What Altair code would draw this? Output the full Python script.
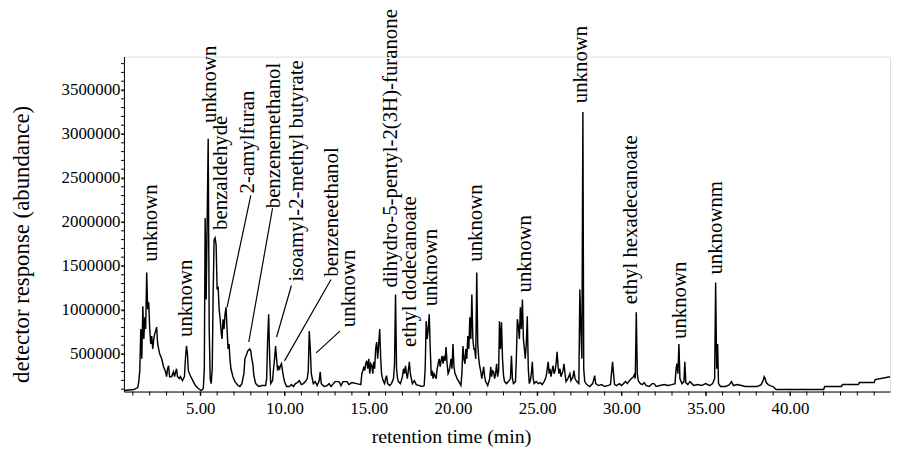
import altair as alt
import pandas as pd

# chromatogram trace: retention time (min) and detector abundance
time_min = [
    0.47, 1.06, 1.29, 1.35, 1.41, 1.47, 1.53, 1.59, 1.65, 1.71, 1.76, 1.82, 1.88, 1.94, 2.00, 2.06, 2.12, 2.18, 2.24, 2.29,
    2.35, 2.41, 2.47, 2.53, 2.59, 2.71, 2.82, 2.94, 3.00, 3.06, 3.12, 3.18, 3.29, 3.41, 3.47, 3.59, 3.65, 3.76, 3.82, 3.94,
    4.06, 4.12, 4.18, 4.24, 4.29, 4.41, 4.59, 4.71, 4.88, 5.06, 5.18,
    5.24, 5.29, 5.35, 5.41, 5.47, 5.53, 5.59, 5.65, 5.71, 5.76, 5.82, 5.88, 5.94, 6.00, 6.06, 6.12, 6.18, 6.24, 6.29, 6.35,
    6.41, 6.47, 6.53, 6.59, 6.65, 6.71, 6.76, 6.82, 6.94, 7.06, 7.24, 7.35, 7.47, 7.59, 7.65, 7.76, 7.82, 7.94, 8.00, 8.06,
    8.12, 8.18, 8.29, 8.47, 8.65, 8.88, 8.94, 9.00, 9.06, 9.12, 9.18, 9.29, 9.35, 9.41, 9.47, 9.53, 9.59, 9.65, 9.71, 9.76,
    9.82, 9.88, 9.94, 10.00, 10.12, 10.29, 10.41, 10.53, 10.65, 10.76, 10.88, 11.00, 11.12, 11.24, 11.35, 11.41, 11.47,
    11.53, 11.59, 11.71, 11.82, 11.94, 12.06, 12.12, 12.18, 12.35, 12.53, 12.65, 12.76, 13.00, 13.24, 13.35, 13.47, 13.71,
    13.82, 14.00, 14.29, 14.53,
    14.59, 14.65, 14.71, 14.76, 14.82, 14.88, 14.94, 15.00, 15.06, 15.12, 15.18, 15.24, 15.29, 15.35, 15.41, 15.47, 15.53,
    15.59, 15.65, 15.71, 15.76, 15.82, 15.88, 15.94, 16.00, 16.06, 16.12, 16.24, 16.35, 16.47, 16.53, 16.59, 16.65, 16.71,
    16.76, 16.88, 17.00, 17.06, 17.12, 17.18, 17.24, 17.29, 17.35, 17.41, 17.47, 17.53, 17.59, 17.71, 17.82, 18.00, 18.18,
    18.29, 18.35, 18.41, 18.47, 18.53, 18.59, 18.65, 18.71, 18.76, 18.82, 18.88, 19.00, 19.06, 19.12, 19.18, 19.24, 19.29,
    19.35, 19.41, 19.47, 19.53, 19.59, 19.65, 19.71, 19.76, 19.82, 19.88, 19.94, 20.00, 20.06, 20.12, 20.18, 20.24, 20.35,
    20.47, 20.53, 20.59, 20.65, 20.71, 20.76, 20.82, 20.88, 20.94, 21.00, 21.06, 21.12, 21.18, 21.24, 21.29, 21.35, 21.41,
    21.47, 21.53, 21.59, 21.65, 21.71, 21.76, 21.82, 21.88, 21.94, 22.06, 22.18, 22.24, 22.29, 22.35, 22.41, 22.47, 22.53,
    22.59, 22.65, 22.71, 22.76, 22.82, 22.88, 22.94, 23.00, 23.06, 23.18, 23.29, 23.41, 23.47, 23.53, 23.59, 23.71, 23.76,
    23.82, 23.88, 23.94, 24.00, 24.06, 24.12, 24.18, 24.24, 24.29, 24.35, 24.41, 24.47, 24.53, 24.59, 24.65, 24.71, 24.76,
    24.82, 24.94, 25.06, 25.18, 25.29, 25.41, 25.53, 25.65, 25.71, 25.76, 25.82, 25.88, 25.94, 26.00, 26.06, 26.12, 26.18,
    26.24, 26.29, 26.35, 26.41, 26.53, 26.59, 26.65, 26.71, 26.82, 26.94, 27.00, 27.12, 27.18, 27.24, 27.35, 27.47, 27.53,
    27.59, 27.65, 27.71, 27.76, 27.82, 27.94, 28.12, 28.29, 28.41, 28.47, 28.65, 28.82, 29.00, 29.18, 29.35, 29.47, 29.53,
    29.59,
    29.71, 29.88, 30.00, 30.12, 30.24, 30.35, 30.47, 30.59, 30.71, 30.76, 30.82, 30.88, 30.94, 31.00, 31.12, 31.24, 31.35,
    31.47, 31.65, 31.82, 31.94, 32.06, 32.29, 32.53, 32.76, 33.00, 33.18, 33.24, 33.29, 33.35, 33.41, 33.47, 33.59, 33.71,
    33.76, 33.82, 33.94, 34.06, 34.18, 34.29, 34.53, 34.76, 35.00, 35.24, 35.41, 35.53, 35.59, 35.65, 35.71, 35.76, 35.88,
    36.18, 36.41, 36.53, 36.65, 36.88, 37.12, 37.35, 37.71, 38.06, 38.29, 38.41, 38.47, 38.53, 38.59, 38.71, 38.82, 39.00,
    39.18, 42.00, 42.06, 43.06, 43.12, 44.06, 44.12, 45.00, 45.06, 45.94,
]

abundance = [
    84000, 96000, 118000, 186000, 310000, 783000, 445000, 1042000, 670000, 918000, 783000, 1425000, 1008000, 1087000,
    783000, 614000, 704000, 557000, 670000, 726000, 760000, 805000, 614000, 557000, 501000, 445000, 355000, 298000,
    242000, 332000, 366000, 242000, 242000, 298000, 242000, 332000, 242000, 220000, 242000, 197000, 242000, 445000,
    591000, 501000, 310000, 253000, 186000, 141000, 107000, 84000, 107000,
    332000, 2044000, 1120000, 2021000, 2945000, 783000, 220000, 163000, 332000, 1120000, 1796000, 1819000, 1740000,
    1233000, 1267000, 1008000, 895000, 749000, 670000, 895000, 783000, 952000, 1030000, 783000, 557000, 614000, 445000,
    332000, 242000, 186000, 141000, 130000, 163000, 276000, 445000, 501000, 535000, 557000, 535000, 445000, 389000,
    253000, 163000, 130000, 141000, 141000, 220000, 670000, 952000, 445000, 163000, 197000, 332000, 445000, 591000,
    445000, 310000, 355000, 332000, 366000, 389000, 310000, 242000, 186000, 130000, 130000, 152000, 130000, 163000,
    175000, 197000, 152000, 163000, 186000, 220000, 310000, 760000, 557000, 276000, 163000, 186000, 141000, 197000,
    298000, 163000, 130000, 141000, 163000, 130000, 186000, 186000, 141000, 186000, 186000, 152000, 175000, 163000,
    152000,
    276000, 310000, 355000, 310000, 389000, 422000, 332000, 445000, 276000, 389000, 366000, 276000, 411000, 332000,
    557000, 636000, 445000, 614000, 783000, 445000, 276000, 220000, 186000, 163000, 220000, 253000, 163000, 141000,
    163000, 220000, 389000, 1177000, 332000, 220000, 186000, 163000, 242000, 332000, 276000, 366000, 276000, 220000,
    310000, 411000, 276000, 220000, 163000, 197000, 152000, 141000, 130000, 141000, 332000, 873000, 670000, 783000,
    952000, 557000, 253000, 310000, 220000, 276000, 220000, 332000, 389000, 445000, 355000, 422000, 479000, 389000,
    479000, 422000, 580000, 389000, 276000, 298000, 355000, 445000, 332000, 614000, 355000, 276000, 253000, 220000,
    186000, 141000, 276000, 591000, 445000, 389000, 557000, 445000, 704000, 557000, 918000, 670000, 1177000, 670000,
    557000, 557000, 445000, 1425000, 614000, 445000, 355000, 298000, 220000, 276000, 355000, 242000, 186000, 141000,
    220000, 355000, 242000, 310000, 298000, 220000, 276000, 389000, 242000, 310000, 873000, 557000, 861000, 445000,
    253000, 186000, 163000, 186000, 220000, 479000, 220000, 163000, 186000, 445000, 895000, 816000, 670000, 1030000,
    783000, 1120000, 670000, 557000, 445000, 614000, 929000, 332000, 163000, 197000, 276000, 411000, 220000, 163000,
    186000, 163000, 175000, 152000, 186000, 242000, 411000, 276000, 332000, 242000, 310000, 366000, 276000, 310000,
    389000, 524000, 355000, 276000, 332000, 242000, 310000, 389000, 276000, 186000, 220000, 276000, 197000, 242000,
    310000, 220000, 186000, 163000, 1233000, 783000, 445000, 3249000, 332000, 186000, 152000, 130000, 163000, 253000,
    163000, 141000, 152000, 130000, 141000, 152000, 411000, 276000, 152000,
    141000, 163000, 141000, 163000, 186000, 163000, 197000, 220000, 242000, 265000, 220000, 974000, 276000, 197000,
    163000, 152000, 175000, 141000, 130000, 163000, 163000, 130000, 141000, 152000, 141000, 152000, 163000, 332000,
    389000, 276000, 614000, 220000, 163000, 186000, 411000, 175000, 152000, 186000, 163000, 141000, 152000, 141000,
    163000, 141000, 163000, 220000, 1312000, 332000, 614000, 163000, 130000, 130000, 152000, 186000, 141000, 152000,
    141000, 130000, 130000, 130000, 152000, 197000, 242000, 220000, 175000, 152000, 141000, 130000, 96000, 96000,
    130000, 130000, 152000, 152000, 175000, 175000, 208000, 242000,
]

# peak annotations (label start position, reading upward)
label_text = [
    "unknown", "unknown", "unknown", "benzaldehyde", "2-amylfuran", "benzenemethanol",
    "isoamyl-2-methyl butyrate", "benzeneethanol", "unknown", "dihydro-5-pentyl-2(3H)-furanone",
    "ethyl dodecanoate", "unknown", "unknown", "unknown", "unknown", "ethyl hexadecanoate",
    "unknown", "unknownm",
]
label_time = [2.06, 4.18, 5.59, 6.24, 7.82, 9.35, 10.76, 12.82, 13.82, 16.35,
              17.47, 18.71, 21.35, 24.29, 27.59, 30.59, 33.47, 35.59]
label_abund = [1548000, 693000, 3125000, 1909000, 2325000, 2156000, 1323000, 1379000, 805000, 1256000,
               580000, 1042000, 1548000, 1199000, 3350000, 1064000, 670000, 1402000]

# leader lines from labels to peaks
leader_t1 = [8.00, 9.29, 10.41, 12.76, 13.29]
leader_v1 = [2303000, 2156000, 1278000, 1346000, 760000]
leader_t2 = [6.59, 7.88, 9.53, 10.00, 11.88]
leader_v2 = [1030000, 636000, 693000, 422000, 512000]

# axis ticks
x_label_values = [5, 10, 15, 20, 25, 30, 35, 40]
y_label_values = [500000, 1000000, 1500000, 2000000, 2500000, 3000000, 3500000]
x_minor_ticks = list(range(1, 46))
y_minor_ticks = list(range(100000, 3900000, 100000))

trace = pd.DataFrame({"t": time_min, "v": abundance})
labels = pd.DataFrame({"t": label_time, "v": label_abund, "label": label_text})
leaders = pd.DataFrame({"t1": leader_t1, "v1": leader_v1, "t2": leader_t2, "v2": leader_v2})
xminor = pd.DataFrame({"t": x_minor_ticks})
yminor = pd.DataFrame({"v": y_minor_ticks})

W, H = 773, 338
x_scale = alt.Scale(domain=[0.47, 45.94], nice=False, zero=False)
y_scale = alt.Scale(domain=[73000, 3880000], nice=False, zero=False)

tick_font = "Liberation Sans Narrow"

x_axis = alt.Axis(
    values=x_label_values, format=".2f",
    grid=False, domainColor="black", domainWidth=1, tickColor="black", tickSize=4, tickWidth=1,
    labelFont=tick_font, labelFontSize=17, labelColor="black", labelPadding=5, labelFlush=False,
    labelOverlap=False,
    title="retention time (min)", titleFont="Liberation Serif", titleFontSize=20, titleFontWeight="normal",
    titleColor="black", titleX=330, titleY=45, titleAlign="center", titleBaseline="middle", titleAnchor="start",
)
y_axis = alt.Axis(
    values=y_label_values, format="d",
    grid=False, domainColor="black", domainWidth=1, tickColor="black", tickSize=3, tickWidth=1,
    labelFont=tick_font, labelFontSize=17, labelColor="black", labelPadding=1, labelOverlap=False,
    title="detector response (abundance)", titleFont="Liberation Serif", titleFontSize=23,
    titleFontWeight="normal", titleColor="black", titleAngle=270, titleX=-103, titleY=189,
    titleAlign="center", titleBaseline="middle", titleAnchor="start",
)

line = alt.Chart(trace).mark_line(color="black", strokeWidth=1.45, clip=True).encode(
    x=alt.X("t:Q", scale=x_scale, axis=x_axis),
    y=alt.Y("v:Q", scale=y_scale, axis=y_axis),
)

x_minor = alt.Chart(xminor).mark_rule(color="black", strokeWidth=1).encode(
    x=alt.X("t:Q", scale=x_scale),
    y=alt.value(H),
    y2=alt.value(H + 4),
)

y_minor = alt.Chart(yminor).mark_rule(color="black", strokeWidth=1).encode(
    y=alt.Y("v:Q", scale=y_scale),
    x=alt.value(-3),
    x2=alt.value(0),
)

text = alt.Chart(labels).mark_text(
    angle=270, align="left", baseline="middle", font="Liberation Serif", fontSize=21, color="black"
).encode(
    x=alt.X("t:Q", scale=x_scale),
    y=alt.Y("v:Q", scale=y_scale),
    text="label:N",
)

rules = alt.Chart(leaders).mark_rule(color="black", strokeWidth=1.2).encode(
    x=alt.X("t1:Q", scale=x_scale),
    y=alt.Y("v1:Q", scale=y_scale),
    x2="t2:Q",
    y2="v2:Q",
)

chart = alt.layer(line, x_minor, y_minor, rules, text).properties(
    width=W, height=H,
    autosize=alt.AutoSizeParams(type="none"),
    padding={"left": 117, "top": 47, "right": 2, "bottom": 60},
).configure_view(stroke=None).configure(background="white")

chart.save("out.html", embed_options={"renderer": "svg", "actions": False})
